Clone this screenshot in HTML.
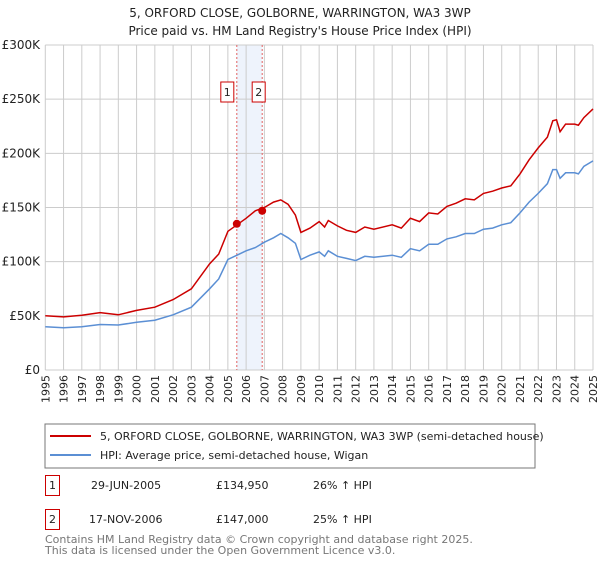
<!DOCTYPE html>
<html><head><meta charset="utf-8"><style>
body{margin:0;background:#fff;font-family:"Liberation Sans","DejaVu Sans",sans-serif;}
svg text{font-family:"DejaVu Sans","Liberation Sans",sans-serif;}
</style></head><body>
<svg width="600" height="560" viewBox="0 0 600 560">
<text x="300" y="17" text-anchor="middle" font-size="12" fill="#222">5, ORFORD CLOSE, GOLBORNE, WARRINGTON, WA3 3WP</text>
<text x="300" y="35" text-anchor="middle" font-size="12" fill="#222">Price paid vs. HM Land Registry's House Price Index (HPI)</text>
<g id="plot"></g>
<rect x="45" y="424" width="490" height="44" fill="#fff" stroke="#777"/>
<line x1="50" y1="436" x2="91" y2="436" stroke="#cc0000" stroke-width="2"/>
<text x="100" y="440" font-size="11" fill="#222">5, ORFORD CLOSE, GOLBORNE, WARRINGTON, WA3 3WP (semi-detached house)</text>
<line x1="50" y1="455" x2="91" y2="455" stroke="#5b8fd4" stroke-width="2"/>
<text x="100" y="459" font-size="11" fill="#222">HPI: Average price, semi-detached house, Wigan</text>
<g font-size="11" fill="#222">
<rect x="45.5" y="475.5" width="14" height="20" fill="none" stroke="#cc0000"/>
<text x="52.5" y="489" text-anchor="middle">1</text>
<text x="91" y="489">29-JUN-2005</text>
<text x="216" y="489">£134,950</text>
<text x="313" y="489">26% ↑ HPI</text>
<rect x="45.5" y="509.5" width="14" height="20" fill="none" stroke="#cc0000"/>
<text x="52.5" y="523" text-anchor="middle">2</text>
<text x="89" y="523">17-NOV-2006</text>
<text x="216" y="523">£147,000</text>
<text x="313" y="523">25% ↑ HPI</text>
</g>
<text x="45" y="543" font-size="11" fill="#777">Contains HM Land Registry data © Crown copyright and database right 2025.</text>
<text x="45" y="554" font-size="11" fill="#777">This data is licensed under the Open Government Licence v3.0.</text>
</svg>
<script>
const yTicks=[0,50,100,150,200,250,300];
const yTickLabels=["£0","£50K","£100K","£150K","£200K","£250K","£300K"];
const years=[1995,1996,1997,1998,1999,2000,2001,2002,2003,2004,2005,2006,2007,2008,2009,2010,2011,2012,2013,2014,2015,2016,2017,2018,2019,2020,2021,2022,2023,2024,2025];
const seriesT=[1995,1996,1997,1998,1999,2000,2001,2002,2003,2004,2004.5,2005,2005.5,2006,2006.5,2007,2007.5,2007.9,2008.3,2008.7,2009,2009.5,2010,2010.3,2010.5,2011,2011.5,2012,2012.5,2013,2014,2014.5,2015,2015.5,2016,2016.5,2017,2017.5,2018,2018.5,2019,2019.5,2020,2020.5,2021,2021.5,2022,2022.5,2022.8,2023,2023.2,2023.5,2024,2024.2,2024.5,2025];
const hpiValues=[40,39,40,42,41.5,44,46,51,58,75,84,102,106,110,113,118,122,126,122,117,102,106,109,105,110,105,103,101,105,104,106,104,112,110,116,116,121,123,126,126,130,131,134,136,145,155,163,172,185,185,177,182,182,181,188,193];
const propValues=[50,49,50.5,53,51,55,58,65,75,98,107,128,134,140,147,150,155,157,153,143,127,131,137,132,138,133,129,127,132,130,134,131,140,137,145,144,151,154,158,157,163,165,168,170,181,194,205,215,230,231,220,227,227,226,233,241];
const saleT=[2005.49,2006.88];
const saleV=[134.95,147];
const saleLabels=["1","2"];
const NS="http://www.w3.org/2000/svg";
const X0=45.3,X1=593,Y0=370,Y1=45;
const xS=t=>X0+(t-1995)/(2025-1995)*(X1-X0);
const yS=v=>Y0-v/300*(Y0-Y1);
const g=document.getElementById('plot');
function mk(tag,attrs){const e=document.createElementNS(NS,tag);for(const k in attrs)e.setAttribute(k,attrs[k]);g.appendChild(e);return e;}
let e=mk('rect',{x:xS(saleT[0]),y:Y1,width:xS(saleT[1])-xS(saleT[0]),height:Y0-Y1,fill:'#eef3fc'});


years.forEach(yr=>{const l=mk('line',{x1:xS(yr),x2:xS(yr),y1:Y1,y2:Y0,stroke:'#ccc','stroke-width':1});


const t=mk('text',{transform:`translate(${xS(yr)+4},375) rotate(-90)`,'text-anchor':'end','font-size':11,fill:'#222'});t.textContent=yr;

});
yTicks.forEach((v,i)=>{const l=mk('line',{x1:X0,x2:X1,y1:yS(v),y2:yS(v),stroke:'#ccc','stroke-width':1});


const t=mk('text',{x:40,y:yS(v)+4,'text-anchor':'end','font-size':12,fill:'#222'});t.textContent=yTickLabels[i];

});
saleT.forEach((t,i)=>{const l=mk('line',{x1:xS(t),x2:xS(t),y1:Y1,y2:Y0,stroke:'#e06060','stroke-width':1,'stroke-dasharray':'2,2'});


const r=mk('rect',{x:xS(t)-12+ (i?2:-4),y:82,width:13,height:20,fill:'#fff',stroke:'#cc0000'});


const tx=mk('text',{x:xS(t)-5.5+(i?2:-4),y:96,'text-anchor':'middle','font-size':11,fill:'#222'});tx.textContent=saleLabels[i];

});
function line(vals,color,name){const p=mk('polyline',{points:seriesT.map((t,i)=>xS(t).toFixed(1)+','+yS(vals[i]).toFixed(1)).join(' '),fill:'none',stroke:color,'stroke-width':1.5});

}
line(hpiValues,'#5b8fd4','hpi-line');
line(propValues,'#cc0000','property-line');
saleT.forEach((t,i)=>{const c=mk('circle',{cx:xS(t),cy:yS(saleV[i]),r:4,fill:'#cc0000'});

});
</script>
</body></html>
